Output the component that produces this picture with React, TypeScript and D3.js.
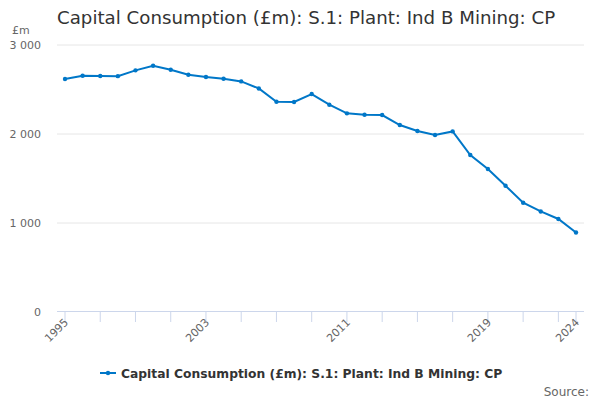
import React from 'react';
import * as d3 from 'd3';

const years = [
  1995, 1996, 1997, 1998, 1999, 2000, 2001, 2002, 2003, 2004, 2005, 2006, 2007, 2008, 2009,
  2010, 2011, 2012, 2013, 2014, 2015, 2016, 2017, 2018, 2019, 2020, 2021, 2022, 2023, 2024,
];
const values = [
  2618, 2655, 2652, 2650, 2715, 2767, 2722, 2666, 2640, 2621, 2591, 2512, 2363, 2360, 2449,
  2329, 2232, 2217, 2213, 2101, 2034, 1989, 2029, 1764, 1607, 1419, 1228, 1130, 1045, 894,
];
const yTicks = [0, 1000, 2000, 3000];
const xLabels = [1995, 2003, 2011, 2019, 2024];
const xTicks = [...d3.range(1995, 2024, 2), 2024];

const title = 'Capital Consumption (£m): S.1: Plant: Ind B Mining: CP';
const seriesName = 'Capital Consumption (£m): S.1: Plant: Ind B Mining: CP';

const W = 600;
const H = 400;
const plot = { left: 57, right: 584, top: 45, bottom: 312 };
const font = '"DejaVu Sans", sans-serif';
const blue = '#0077c8';

const fmt = (v: number) => (v >= 1000 ? d3.format(',')(v).replace(',', ' ') : String(v));

const App: React.FC = () => {
  const x = d3.scaleLinear().domain([1995, 2024]).range([65, 576]);
  const y = d3.scaleLinear().domain([0, 3000]).range([plot.bottom, plot.top]);

  const line = d3
    .line<number>()
    .x((_, i) => x(years[i]))
    .y((d) => y(d));

  return (
    <svg width={W} height={H} style={{ position: 'absolute', left: 0, top: 0, fontFamily: font }}>
      <rect width={W} height={H} fill="#fff" />
      <text x={57} y={24} fontSize={18.2} fill="#333">
        {title}
      </text>
      <text x={12} y={34} fontSize={11} fill="#666">
        £m
      </text>

      {yTicks.map((t) => (
        <g key={t}>
          {t > 0 && (
            <line x1={plot.left} x2={plot.right} y1={y(t)} y2={y(t)} stroke="#e6e6e6" strokeWidth={1} />
          )}
          <text x={41} y={y(t) + 4} fontSize={11} fill="#666" textAnchor="end">
            {fmt(t)}
          </text>
        </g>
      ))}

      <line x1={plot.left} x2={plot.right} y1={plot.bottom - 0.5} y2={plot.bottom - 0.5} stroke="#ccd6eb" />
      {xTicks.map((t) => (
        <line
          key={t}
          x1={x(t)}
          x2={x(t)}
          y1={plot.bottom}
          y2={plot.bottom + 10}
          stroke="#ccd6eb"
        />
      ))}
      {xLabels.map((t) => (
        <text
          key={t}
          transform={`translate(${x(t) + 4},${plot.bottom + 11}) rotate(-45)`}
          fontSize={11}
          fill="#666"
          textAnchor="end"
        >
          {t}
        </text>
      ))}

      <path d={line(values) || ''} fill="none" stroke={blue} strokeWidth={2} />
      {values.map((v, i) => (
        <circle key={i} cx={x(years[i])} cy={y(v)} r={2.2} fill={blue} />
      ))}

      <g transform="translate(100,373)">
        <line x1={0} x2={16} y1={0} y2={0} stroke={blue} strokeWidth={2} />
        <circle cx={8} cy={0} r={2.2} fill={blue} />
        <text x={21} y={4.5} fontSize={12.3} fontWeight="bold" fill="#333">
          {seriesName}
        </text>
      </g>

      <text x={589} y={396} fontSize={12} fill="#666" textAnchor="end">
        Source:
      </text>
    </svg>
  );
};

export default App;
